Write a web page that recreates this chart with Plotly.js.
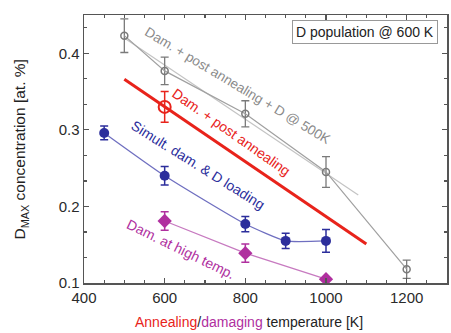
<!DOCTYPE html>
<html>
<head>
<meta charset="utf-8">
<script src="https://cdn.plot.ly/plotly-3.0.1.min.js"></script>
<style>html,body{margin:0;padding:0;background:#fff;}#chart{width:451px;height:333px;}</style>
</head>
<body>
<div id="chart"></div>
<script>
// Dam. + post annealing + D @ 500K (open grey circles)
const postD500_T = [500, 600, 800, 1000, 1200];
const postD500_C = [0.423, 0.377, 0.321, 0.245, 0.118];
const postD500_E = [0.022, 0.018, 0.017, 0.02, 0.012];
// straight guide through the grey series
const postD500Fit_T = [500, 1080];
const postD500Fit_C = [0.42, 0.215];

// Dam. + post annealing (red)
const post_T = [600];
const post_C = [0.330];
const post_E = [0.02];
const postFit_T = [500, 1100];
const postFit_C = [0.366, 0.151];

// Simultaneous damaging & D loading (blue)
const simul_T = [450, 600, 800, 900, 1000];
const simul_C = [0.296, 0.240, 0.177, 0.155, 0.155];
const simul_E = [0.009, 0.012, 0.01, 0.01, 0.015];

// Damaging at high temperature (magenta)
const hot_T = [600, 800, 1000];
const hot_C = [0.181, 0.139, 0.105];
const hot_E = [0.012, 0.012, 0.0];

const GREY = '#8c8c8c', RED = '#e8231b', BLUE = '#2c2e9c', MAG = '#b0309f';
const FONT = 'Liberation Sans, Arial, sans-serif';

const traces = [
  {x: postD500Fit_T, y: postD500Fit_C, mode: 'lines', line: {color: '#c4c4c4', width: 1.2}, hoverinfo: 'skip'},
  {x: postD500_T, y: postD500_C, mode: 'lines+markers',
   line: {color: '#a0a0a0', width: 1.2},
   marker: {symbol: 'circle-open', size: 7, color: '#7a7a7a', line: {width: 1.5}},
   error_y: {type: 'data', array: postD500_E, color: '#7a7a7a', thickness: 1.3, width: 4}},
  {x: postFit_T, y: postFit_C, mode: 'lines', line: {color: RED, width: 3}},
  {x: post_T, y: post_C, mode: 'markers',
   marker: {symbol: 'circle-open', size: 12, color: RED, line: {width: 2}},
   error_y: {type: 'data', array: post_E, color: RED, thickness: 1.5, width: 4}},
  {x: simul_T, y: simul_C, mode: 'lines+markers',
   line: {color: '#6f6fc0', width: 1.3, shape: 'spline', smoothing: 0.5},
   marker: {symbol: 'circle', size: 10, color: BLUE},
   error_y: {type: 'data', array: simul_E, color: BLUE, thickness: 1.5, width: 4}},
  {x: hot_T, y: hot_C, mode: 'lines+markers',
   line: {color: '#c77ac0', width: 1.3},
   marker: {symbol: 'diamond', size: 11, color: MAG},
   error_y: {type: 'data', array: hot_E, color: MAG, thickness: 1.5, width: 4}}
];

const axisCommon = {
  showline: true, linecolor: '#555', linewidth: 1.5, mirror: 'ticks',
  ticks: 'inside', ticklen: 5, tickwidth: 1.2, tickcolor: '#555',
  showgrid: false, zeroline: false,
  tickfont: {family: FONT, size: 15, color: '#2a2a2a'}
};

const layout = {
  width: 451, height: 333,
  margin: {l: 84, r: 4, t: 15, b: 50},
  paper_bgcolor: '#fff', plot_bgcolor: '#fff',
  showlegend: false,
  xaxis: Object.assign({}, axisCommon, {
    range: [400, 1300], tickvals: [400, 600, 800, 1000, 1200],
    minor: {dtick: 50, ticks: 'inside', ticklen: 3, tickcolor: '#555', showgrid: false}
  }),
  yaxis: Object.assign({}, axisCommon, {
    range: [0.1, 0.45], tickvals: [0.1, 0.2, 0.3, 0.4],
    minor: {dtick: 0.1 / 3, tick0: 0.1, ticks: 'inside', ticklen: 3, tickcolor: '#555', showgrid: false}
  }),
  annotations: [
    {xref: 'x', yref: 'y', x: 780, y: 0.358, text: 'Dam. + post annealing + D @ 500K', showarrow: false,
     textangle: 31, font: {family: FONT, size: 13.5, color: '#8a8a8a'}},
    {xref: 'x', yref: 'y', x: 765, y: 0.297, text: 'Dam. + post annealing', showarrow: false,
     textangle: 35, font: {family: FONT, size: 14, color: RED}},
    {xref: 'x', yref: 'y', x: 683, y: 0.254, text: 'Simult. dam. &amp; D loading', showarrow: false,
     textangle: 32, font: {family: FONT, size: 14, color: BLUE}},
    {xref: 'x', yref: 'y', x: 640, y: 0.145, text: 'Dam. at high temp.', showarrow: false,
     textangle: 26, font: {family: FONT, size: 14, color: MAG}},
    {xref: 'paper', yref: 'paper', x: 0.774, y: 0.937, xanchor: 'center', yanchor: 'middle',
     text: 'D population @ 600 K', showarrow: false,
     bordercolor: '#999', borderwidth: 1, borderpad: 3, bgcolor: '#fff',
     font: {family: FONT, size: 14, color: '#222'}},
    {xref: 'paper', yref: 'paper', x: -0.175, y: 0.5, xanchor: 'center', yanchor: 'middle',
     text: 'D<sub>MAX</sub> concentration [at. %]', showarrow: false,
     textangle: -90, font: {family: FONT, size: 15.5, color: '#222'}},
    {xref: 'paper', yref: 'paper', x: 0.455, y: -0.146, xanchor: 'center', yanchor: 'middle',
     text: '<span style="color:' + RED + '">Annealing</span>/<span style="color:' + MAG + '">damaging</span> temperature [K]',
     showarrow: false, font: {family: FONT, size: 14, color: '#222'}}
  ]
};

Plotly.newPlot('chart', traces, layout, {displayModeBar: false, staticPlot: true});
</script>
</body>
</html>
